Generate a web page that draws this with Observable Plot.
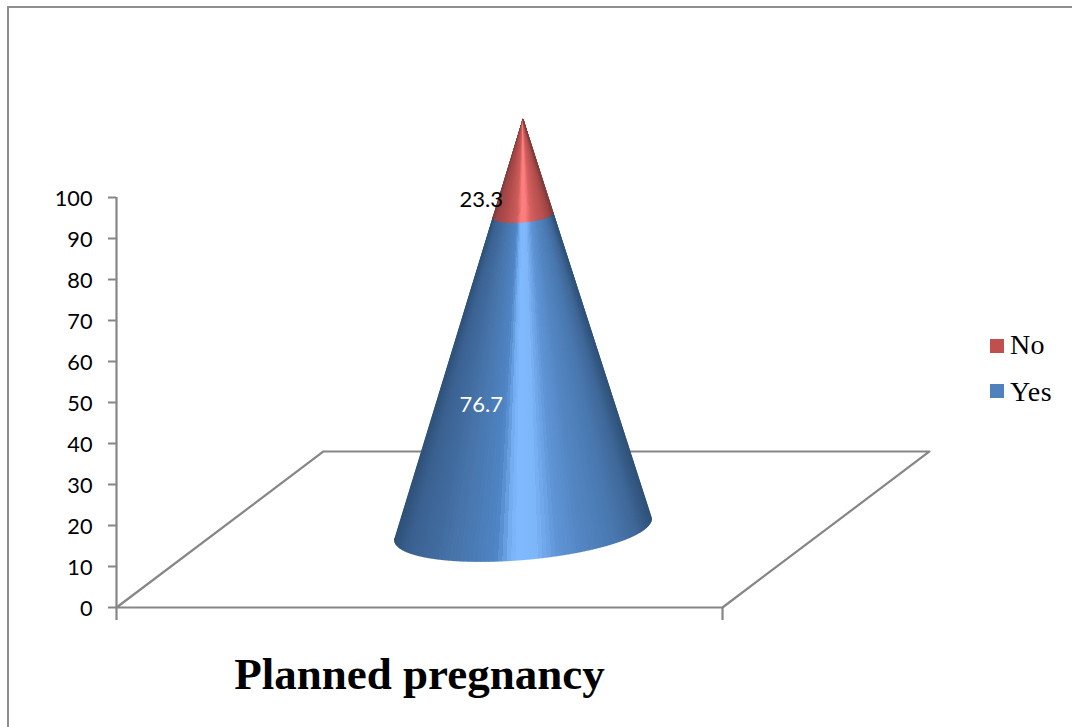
<!DOCTYPE html>
<html>
<head>
<meta charset="utf-8">
<script src="https://cdn.jsdelivr.net/npm/d3@7"></script>
<script src="https://cdn.jsdelivr.net/npm/@observablehq/plot@0.6"></script>
<style>
  html, body { margin: 0; padding: 0; background: #fff; overflow: hidden; }
  #page { position: relative; width: 1072px; height: 727px; overflow: hidden; }
  #page svg { position: absolute; left: 0; top: 0; }
  #frame { position: absolute; left: 7px; top: 6px; width: 1100px; height: 760px;
           border-left: 2px solid #8e8e8e; border-top: 2px solid #8e8e8e; }
  #legend { position: absolute; left: 990px; top: 323.5px; font: 28px "Liberation Serif", serif; color: #000; }
  #legend div { display: flex; align-items: center; height: 45px; }
  #legend i { display: block; width: 14px; height: 14px; margin-right: 6px; }
  #legend span { position: relative; top: -1px; letter-spacing: 0.4px; }
  #legend div:nth-child(2) span { top: 1px; }
</style>
</head>
<body>
<div id="page"><div id="frame"></div><div id="legend"></div></div>
<script>
// Survey answers, stacked bottom to top in one cone
const category = "Planned pregnancy";
const seriesNames = ["Yes", "No"];
const seriesValues = [76.7, 23.3];
const seriesColors = ["#4f81bd", "#c0504d"];
const labelColors = ["#ffffff", "#000000"];
const yTicks = [0, 10, 20, 30, 40, 50, 60, 70, 80, 90, 100];

// Oblique projection of the floor: one unit of depth moves a point this far in x and y
const depthX = 0.3416;
const depthY = 38.05;
const coneRadiusX = 0.2;
const coneRadiusDepth = 0.205;
const labelLift = 10.95;

// Cylindrical shading across the visible face, from left silhouette (-1) to right (+1)
const shadeStops = [-1, -0.9, -0.5, -0.22, -0.16, -0.1, -0.03, 0.1, 0.18, 0.27, 0.45, 0.7, 0.88, 1];
const blueShade = ["#2f5279", "#3a6090", "#4876ac", "#4f84c4", "#5f97d8", "#78b1f6", "#82baff", "#7eb6fa", "#6fa6ea", "#5f95d6", "#5486c3", "#4a79b1", "#3f6899", "#2f5279"];
const redShade = ["#7f3c3c", "#9c4544", "#b95150", "#cc5c5b", "#dd6867", "#f27574", "#ff8080", "#fb7c7c", "#e96f6e", "#d66160", "#c65857", "#b54f4e", "#9e4645", "#7f3c3c"];

const total = d3.sum(seriesValues);
const tops = d3.cumsum(seriesValues);
const cx = 0.5 + 0.5 * depthX;
const cy = 0.5 * depthY;
const a = coneRadiusX;
const b = coneRadiusDepth * depthX;
const c = coneRadiusDepth * depthY;

// Point on the cone's surface at a given height and angle around its axis
function surface(level, t) {
  const s = 1 - level / total;
  return {x: cx + s * (a * Math.cos(t) + b * Math.sin(t)), y: cy + level + s * c * Math.sin(t)};
}

// Angles on the side facing the viewer, between the two silhouette tangents
const angles = d3.range(-1.5 * Math.PI, 0.5 * Math.PI, Math.PI / 90)
  .filter((t) => a * c - total * a * Math.sin(t) + total * b * Math.cos(t) > 0);
const halfWidth = d3.max(angles, (t) => Math.abs(a * Math.cos(t) + b * Math.sin(t)));

// Each series becomes a fan of narrow quads, coloured by where they face
const facets = seriesNames.flatMap((name, i) => {
  const low = i === 0 ? 0 : tops[i - 1];
  const high = tops[i];
  const shade = d3.scaleLinear().domain(shadeStops).range(i === 0 ? blueShade : redShade).clamp(true);
  return d3.pairs(angles).flatMap(([t0, t1], k) => {
    const u = (a * Math.cos((t0 + t1) / 2) + b * Math.sin((t0 + t1) / 2)) / halfWidth;
    const color = shade(u);
    return [surface(low, t0), surface(low, t1), surface(high, t1), surface(high, t0)]
      .map((p) => ({...p, key: name + k, color}));
  });
});

const floor = [
  {x: 0, y: 0}, {x: depthX, y: depthY}, {x: 1 + depthX, y: depthY}, {x: 1, y: 0}, {x: 0, y: 0}
];

const labels = seriesNames.map((name, i) => ({
  value: seriesValues[i],
  y: tops[i] - seriesValues[i] / 2 + labelLift,
  color: labelColors[i]
}));

const axisGrey = "#868686";

const chart = Plot.plot({
  width: 1072,
  height: 727,
  marginLeft: 116,
  marginRight: 350,
  marginTop: 197,
  marginBottom: 120,
  x: {domain: [0, 1]},
  y: {domain: [0, 100]},
  color: {type: "identity"},
  style: {fontFamily: "Lato, sans-serif", fontSize: "22px", background: "transparent", overflow: "visible"},
  marks: [
    Plot.line(floor, {x: "x", y: "y", stroke: axisGrey, strokeWidth: 2.2}),
    Plot.ruleX([0], {y1: 0, y2: 100, stroke: axisGrey, strokeWidth: 2.2}),
    // Tick marks and their numbers are separate so the numbers can sit a little lower
    Plot.axisY({ticks: yTicks, tickSize: 8, stroke: axisGrey, strokeWidth: 2, tickFormat: () => "", label: null}),
    Plot.axisY({ticks: yTicks, tickSize: 0, tickPadding: 24, dy: 2, fill: "#000", label: null, fontSize: 21.7}),
    Plot.axisX({ticks: [0, 1], tickSize: 13, stroke: axisGrey, strokeWidth: 2.2, tickFormat: () => "", label: null}),
    Plot.line(facets, {x: "x", y: "y", z: "key", fill: "color", stroke: "color", strokeWidth: 0.9, shapeRendering: "crispEdges"}),
    Plot.text(labels, {x: 0.602, y: "y", text: (d) => d.value.toFixed(1), fill: "color", fontSize: 22}),
    Plot.text([category], {
      x: [0.5], y: [0], dy: 67.5, text: (d) => d,
      fontFamily: "Liberation Serif, serif", fontWeight: "bold", fontSize: 45, fill: "#000"
    })
  ]
});
document.getElementById("page").appendChild(chart);

// Legend lists the series top of the stack first
const legend = d3.select("#legend");
seriesNames.map((name, i) => ({name, color: seriesColors[i]})).reverse().forEach((d) => {
  const row = legend.append("div");
  row.append("i").style("background", d.color);
  row.append("span").text(d.name);
});
</script>
</body>
</html>
